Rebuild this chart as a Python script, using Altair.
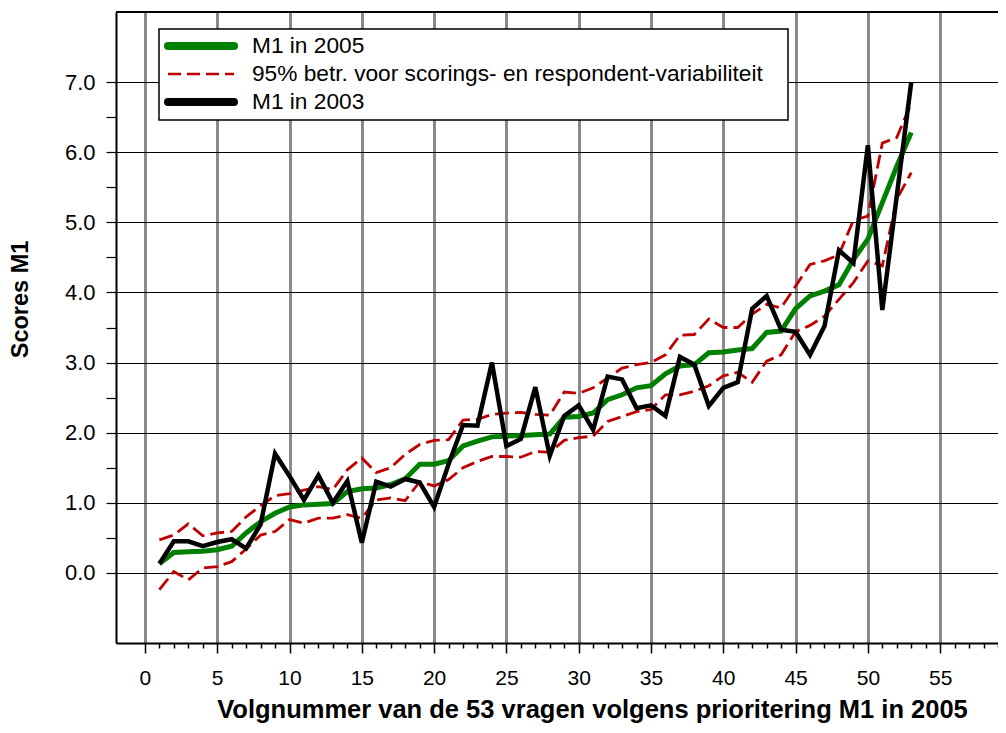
import altair as alt
import pandas as pd

# ---------------- data ----------------
vraag = list(range(1, 54))

m1_2005 = [0.13, 0.29, 0.30, 0.31, 0.33, 0.38, 0.57, 0.73, 0.85, 0.94,
           0.97, 0.98, 0.99, 1.16, 1.20, 1.21, 1.26, 1.34, 1.55, 1.55,
           1.60, 1.81, 1.88, 1.94, 1.95, 1.96, 1.97, 1.98, 2.22, 2.23,
           2.28, 2.47, 2.54, 2.64, 2.67, 2.84, 2.95, 2.97, 3.14, 3.15,
           3.18, 3.20, 3.43, 3.45, 3.77, 3.95, 4.02, 4.11, 4.47, 4.76,
           5.28, 5.80, 6.28]

m1_2003 = [0.13, 0.45, 0.45, 0.38, 0.44, 0.48, 0.35, 0.69, 1.70, 1.38,
           1.04, 1.39, 1.00, 1.31, 0.43, 1.30, 1.23, 1.34, 1.29, 0.94,
           1.55, 2.11, 2.10, 3.00, 1.81, 1.91, 2.65, 1.67, 2.24, 2.39,
           2.04, 2.80, 2.76, 2.35, 2.39, 2.24, 3.08, 2.97, 2.38, 2.64,
           2.72, 3.77, 3.95, 3.47, 3.44, 3.11, 3.52, 4.60, 4.42, 6.10,
           3.75, 5.38, 7.00]

ci_boven = [0.47, 0.54, 0.70, 0.53, 0.57, 0.59, 0.80, 0.96, 1.10, 1.13,
            1.18, 1.23, 1.19, 1.47, 1.64, 1.43, 1.50, 1.69, 1.83, 1.89,
            1.90, 2.18, 2.19, 2.26, 2.28, 2.29, 2.26, 2.25, 2.58, 2.56,
            2.64, 2.78, 2.92, 2.97, 3.00, 3.11, 3.39, 3.40, 3.62, 3.50,
            3.50, 3.69, 3.83, 3.78, 4.09, 4.40, 4.45, 4.54, 5.03, 5.09,
            6.13, 6.21, 6.70]

ci_onder = [-0.24, 0.02, -0.10, 0.07, 0.09, 0.16, 0.34, 0.54, 0.59, 0.76,
            0.71, 0.78, 0.78, 0.83, 0.78, 1.04, 1.07, 1.03, 1.30, 1.24,
            1.33, 1.50, 1.59, 1.66, 1.66, 1.65, 1.73, 1.72, 1.89, 1.93,
            1.95, 2.16, 2.23, 2.30, 2.33, 2.54, 2.54, 2.59, 2.67, 2.81,
            2.86, 2.72, 3.02, 3.11, 3.44, 3.53, 3.66, 3.90, 4.14, 4.45,
            4.38, 5.33, 5.71]

legend_labels = ["M1 in 2005",
                 "95% betr. voor scorings- en respondent-variabiliteit",
                 "M1 in 2003"]
x_title = "Volgnummer van de 53 vragen volgens prioritering M1 in 2005"
y_title = "Scores M1"

x_tick_values = list(range(0, 60))                      # every unit, labelled every 5
y_tick_values = [0.5 * i for i in range(15)]            # 0.0 .. 7.0 every half, labelled every 1

# ---------------- styling ----------------
W, H = 882, 631
FONT = "Liberation Sans"
GREEN = "#008000"
RED = "#c00000"

df_2005 = pd.DataFrame({"vraag": vraag, "score": m1_2005})
df_2003 = pd.DataFrame({"vraag": vraag, "score": m1_2003})
df_ci = pd.DataFrame({"vraag": vraag + vraag,
                      "score": ci_boven + ci_onder,
                      "grens": ["boven"] * len(vraag) + ["onder"] * len(vraag)})
one = pd.DataFrame({"k": [0]})

x_axis = alt.Axis(
    values=x_tick_values,
    labelExpr="datum.value % 5 === 0 ? datum.label : ''",
    tickSize={"condition": {"test": "datum.value % 5 === 0", "value": 10}, "value": 5},
    tickColor="black", tickWidth=1.5,
    grid=True, gridColor="#8a8a8a", gridWidth=3,
    gridOpacity={"condition": {"test": "datum.value % 5 === 0", "value": 1}, "value": 0},
    domainColor="black", domainWidth=2,
    labelFont=FONT, labelFontSize=21, labelColor="black", labelPadding=14,
    labelOverlap=False, labelFlush=False,
    title=x_title, titleFont=FONT, titleFontSize=25.5, titleFontWeight="bold",
    titleColor="black", titleX=476, titleY=74, titleBaseline="alphabetic",
)

y_axis = alt.Axis(
    values=y_tick_values,
    labelExpr="(datum.value % 1 === 0) ? format(datum.value, '.1f') : ''",
    tickSize=10, tickColor="black", tickWidth=1.2,
    grid=True, gridColor="black", gridWidth=1.2,
    gridOpacity={"condition": {"test": "datum.value % 1 === 0", "value": 1}, "value": 0},
    domainColor="black", domainWidth=2,
    labelFont=FONT, labelFontSize=22, labelColor="black", labelPadding=11,
    labelOverlap=False, labelFlush=False,
    title=y_title, titleFont=FONT, titleFontSize=23.5, titleFontWeight="bold",
    titleColor="black", titleX=-96, titleY=287, titleBaseline="middle",
)

x_enc = alt.X("vraag:Q", scale=alt.Scale(domain=[-2, 59], nice=False, zero=False), axis=x_axis)
y_enc = alt.Y("score:Q", scale=alt.Scale(domain=[-1, 8], nice=False, zero=False), axis=y_axis)

ci_lines = alt.Chart(df_ci).mark_line(color=RED, strokeWidth=2.8, strokeDash=[14, 6]).encode(
    x=x_enc, y=y_enc, detail="grens:N")
line_2005 = alt.Chart(df_2005).mark_line(color=GREEN, strokeWidth=5).encode(x=x_enc, y=y_enc)
line_2003 = alt.Chart(df_2003).mark_line(color="black", strokeWidth=4.5).encode(x=x_enc, y=y_enc)

top_border = alt.Chart(one).mark_rule(color="black", strokeWidth=2).encode(
    x=alt.value(0), x2=alt.value(W), y=alt.value(0))

# legend (box, symbols, labels)
LX0, LX1, LY0, LY1 = 43, 672, 17, 108
rows = [34, 62, 90]
sym_x0, sym_x1, txt_x = 52, 118, 136

legend_box = alt.Chart(one).mark_rect(fill="white", stroke="black", strokeWidth=1.5).encode(
    x=alt.value(LX0), x2=alt.value(LX1), y=alt.value(LY0), y2=alt.value(LY1))
sym_green = alt.Chart(one).mark_rule(color=GREEN, strokeWidth=8, strokeCap="round").encode(
    x=alt.value(sym_x0), x2=alt.value(sym_x1), y=alt.value(rows[0]))
sym_red = alt.Chart(one).mark_rule(color=RED, strokeWidth=2.6, strokeDash=[13, 6]).encode(
    x=alt.value(sym_x0), x2=alt.value(sym_x1), y=alt.value(rows[1]))
sym_black = alt.Chart(one).mark_rule(color="black", strokeWidth=8, strokeCap="round").encode(
    x=alt.value(sym_x0), x2=alt.value(sym_x1), y=alt.value(rows[2]))
legend_texts = [
    alt.Chart(one).mark_text(align="left", baseline="middle", font=FONT, fontSize=22.7,
                             color="black").encode(
        x=alt.value(txt_x), y=alt.value(r), text=alt.value(lbl))
    for r, lbl in zip(rows, legend_labels)
]

chart = alt.layer(
    ci_lines, line_2005, line_2003, top_border,
    legend_box, sym_green, sym_red, sym_black, *legend_texts,
).properties(
    width=W, height=H,
    autosize=alt.AutoSizeParams(type="none"),
    padding={"left": 108, "top": 4, "right": 0, "bottom": 82},
    background="white",
).configure_view(stroke=None)

chart.save("out.html", embed_options={"renderer": "svg", "actions": False})
